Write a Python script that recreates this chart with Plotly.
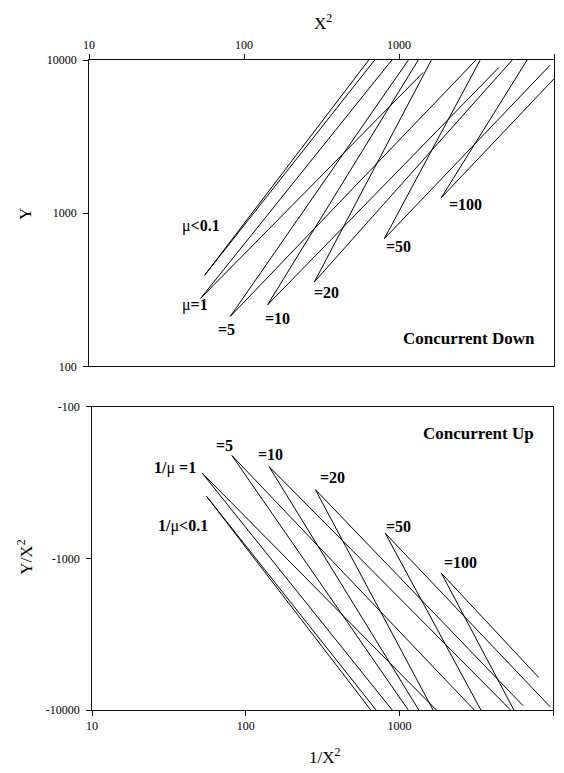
import numpy as np
import plotly.graph_objects as go

W, H = 564, 773

# ---------------- data ----------------
down_labels = ["μ<b>&lt;0.1</b>", "μ<b>=1</b>", "<b>=5</b>", "<b>=10</b>", "<b>=20</b>", "<b>=50</b>", "<b>=100</b>"]
up_labels = ["<b>1/</b>μ<b>&lt;0.1</b>", "<b>1/</b>μ<b> =1</b>", "<b>=5</b>", "<b>=10</b>", "<b>=20</b>", "<b>=50</b>", "<b>=100</b>"]

# Concurrent Down (X^2, Y)
down_start_x = [55.6, 52.4, 81.5, 141.6, 284, 802, 1871]
down_start_y = [393, 278, 212, 252, 356, 681, 1262]
down_steep_end_x = [637, 898, 1148, 1330, 1616, 3335, 6695]
down_steep_end_y = [10000, 10000, 10000, 10000, 10000, 10000, 10000]
down_shallow_end_x = [696, 1429, 3131, 4393, 5370, 9420, 10000]
down_shallow_end_y = [10000, 8293, 10000, 8925, 10000, 9249, 7556]

# Concurrent Up (1/X^2, Y/X^2)
up_start_x = [55.6, 52.2, 81.3, 142, 284, 809, 1875]
up_start_y = [-390, -275, -210, -249, -353, -684, -1254]
up_steep_end_x = [651, 897, 1141, 1337, 1656, 3389, 5555]
up_steep_end_y = [-10000, -10000, -10000, -10000, -10000, -10000, -10000]
up_shallow_end_x = [705, 1739, 3069, 5286, 6383, 9575, 8035]
up_shallow_end_y = [-10000, -10000, -10000, -10000, -9376, -9530, -6084]

x_ticks = [10, 100, 1000, 10000]
down_y_ticks = [100, 1000, 10000]
up_y_ticks = [-100, -1000, -10000]

# ---------------- layout helpers ----------------
def px_x(p):
    return p / W

def px_y(p):
    return 1 - p / H

FONT = "Liberation Serif, Times New Roman, serif"
LINE = "#111"

fig = go.Figure()

for i in range(len(down_start_x)):
    fig.add_trace(go.Scatter(
        x=[down_steep_end_x[i], down_start_x[i], down_shallow_end_x[i]],
        y=[down_steep_end_y[i], down_start_y[i], down_shallow_end_y[i]],
        mode="lines", line=dict(color="black", width=1),
        xaxis="x", yaxis="y", showlegend=False, hoverinfo="skip"))

for i in range(len(up_start_x)):
    ys = np.abs(np.array([up_steep_end_y[i], up_start_y[i], up_shallow_end_y[i]], dtype=float))
    fig.add_trace(go.Scatter(
        x=[up_steep_end_x[i], up_start_x[i], up_shallow_end_x[i]],
        y=ys,
        mode="lines", line=dict(color="black", width=1),
        xaxis="x2", yaxis="y2", showlegend=False, hoverinfo="skip"))

axis_common = dict(showgrid=False, zeroline=False, showline=True, linecolor=LINE, linewidth=1,
                   ticks="outside", ticklen=5, tickcolor=LINE, tickwidth=1, mirror=True,
                   tickfont=dict(family=FONT, size=12, color="black"))

fig.update_layout(
    width=W, height=H, paper_bgcolor="white", plot_bgcolor="white",
    margin=dict(l=0, r=0, t=0, b=0),
    xaxis=dict(type="log", range=[1, 4], domain=[px_x(84), px_x(554)], side="top", anchor="y",
               tickvals=x_ticks, ticktext=[str(v) for v in x_ticks], **axis_common),
    yaxis=dict(type="log", range=[2, 4], domain=[px_y(366), px_y(54)], anchor="x",
               tickvals=down_y_ticks, ticktext=[str(v) for v in down_y_ticks],
               ticklabelstandoff=4, **axis_common),
    xaxis2=dict(type="log", range=[1, 4], domain=[px_x(87), px_x(553)], side="bottom", anchor="y2",
                tickvals=x_ticks, ticktext=[str(v) for v in x_ticks], **axis_common),
    yaxis2=dict(type="log", range=[4, 2], domain=[px_y(716), px_y(407)], anchor="x2",
                tickvals=[abs(v) for v in up_y_ticks], ticktext=[str(v) for v in up_y_ticks],
                ticklabelstandoff=4, **axis_common),
)

ann = []
def add_text(text, cx, cy, size, rot=0):
    ann.append(dict(text=text, x=px_x(cx), y=px_y(cy), xref="paper", yref="paper",
                    showarrow=False, xanchor="center", yanchor="middle", textangle=rot,
                    font=dict(family=FONT, size=size, color="black")))

# axis titles
add_text("X<sup>2</sup>", 320, 15, 17)
add_text("1/X<sup>2</sup>", 322, 763, 17)
add_text("Y", 19, 211, 17, -90)
add_text("Y/X<sup>2</sup>", 19, 560, 17, -90)

# panel titles
add_text("<b>Concurrent Down</b>", 468, 338, 17)
add_text("<b>Concurrent Up</b>", 478, 434, 17)

down_label_pos = [(197, 223), (191, 303), (223, 328), (274, 317), (324, 291), (397, 244), (464, 201)]
for lab, (cx, cy) in zip(down_labels, down_label_pos):
    add_text(lab, cx, cy, 16)

up_label_pos = [(179, 529), (171, 470), (221, 447), (267, 456), (330, 479), (397, 529), (459, 566)]
for lab, (cx, cy) in zip(up_labels, up_label_pos):
    add_text(lab, cx, cy, 16)

fig.update_layout(annotations=ann)
fig.write_html("out.html", config={"displayModeBar": False},
               post_script="document.body.style.margin='0px';document.body.style.overflow='hidden';")
